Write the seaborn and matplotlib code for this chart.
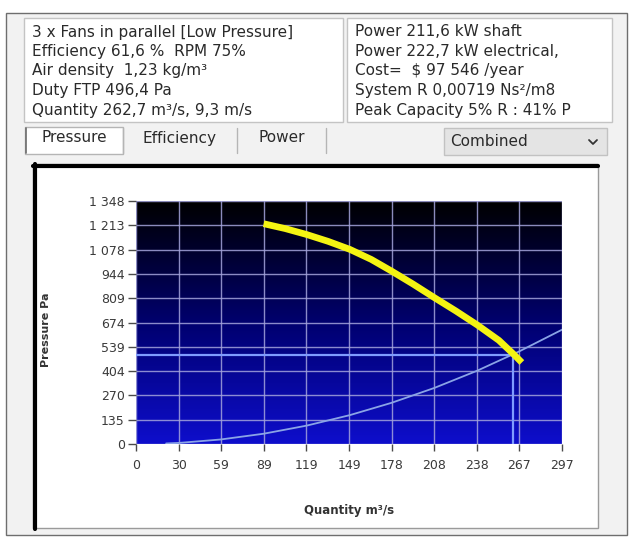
import numpy as np
import matplotlib
matplotlib.use("Agg")
import matplotlib.pyplot as plt
from matplotlib.patches import Rectangle
from matplotlib.colors import LinearSegmentedColormap
import seaborn as sns

# fan pressure curve (yellow) and system resistance curve
fan_q = [89, 104, 119, 134, 149, 164, 178, 193, 208, 223, 238, 253, 263, 269]
fan_p = [1222, 1195, 1162, 1124, 1080, 1024, 960, 888, 812, 738, 660, 575, 500, 452]
sys_q = [21, 30, 59, 89, 119, 149, 178, 208, 238, 267, 297]
sys_p = [3, 6, 25, 57, 102, 160, 228, 311, 407, 513, 634]
duty_q = 262.7
duty_p = 496.4

x_tick_labels = ["0", "30", "59", "89", "119", "149", "178", "208", "238", "267", "297"]
y_tick_labels = ["0", "135", "270", "404", "539", "674", "809", "944", "1 078", "1 213", "1 348"]
x_max = 297
y_max = 1348

info_left = ["3 x Fans in parallel [Low Pressure]",
             "Efficiency 61,6 %  RPM 75%",
             "Air density  1,23 kg/m³",
             "Duty FTP 496,4 Pa",
             "Quantity 262,7 m³/s, 9,3 m/s"]
info_right = ["Power 211,6 kW shaft",
              "Power 222,7 kW electrical,",
              "Cost=  $ 97 546 /year",
              "System R 0,00719 Ns²/m8",
              "Peak Capacity 5% R : 41% P"]
tabs = ["Pressure", "Efficiency", "Power"]
dropdown = "Combined"

sns.set_style("white")
plt.rcParams["font.family"] = ["DejaVu Sans"]

W, H = 633, 538
fig = plt.figure(figsize=(W / 100, H / 100), dpi=100)
fig.patch.set_facecolor("white")

# window chrome, drawn in pixel coordinates
ui = fig.add_axes([0, 0, 1, 1])
ui.set_xlim(0, W)
ui.set_ylim(H, 0)
ui.axis("off")

txt = "#2a2a2a"
fs = 11
ui.add_patch(Rectangle((6, 13), 621, 522, fc="#f2f2f2", ec="#6e6e6e", lw=1))
ui.add_patch(Rectangle((24, 18), 319, 104, fc="white", ec="#c4c4c4", lw=1))
ui.add_patch(Rectangle((347, 18), 265, 104, fc="white", ec="#c4c4c4", lw=1))
for i, (a, b) in enumerate(zip(info_left, info_right)):
    y = 32 + i * 19.5
    ui.text(32, y, a, fontsize=fs, color=txt, va="center")
    ui.text(355, y, b, fontsize=fs, color=txt, va="center")

tab_x = [25, 123, 237, 326]
ui.add_patch(Rectangle((25, 127), 98, 27, fc="white", ec="#b5b5b5", lw=1))
ui.plot([26, 26], [128, 153], color="#6e6e6e", lw=1.2)
for i, name in enumerate(tabs):
    ui.plot([tab_x[i + 1]] * 2, [128, 153], color="#b5b5b5", lw=1)
    ui.text((tab_x[i] + tab_x[i + 1]) / 2, 138, name, fontsize=fs,
            color=txt, ha="center", va="center")

ui.add_patch(Rectangle((444, 128), 163, 27, fc="#e4e4e4", ec="#c2c2c2", lw=1))
ui.text(489, 142, dropdown, fontsize=fs, color=txt, ha="center", va="center")
ui.plot([589, 593, 597], [140, 144, 140], color="#333333", lw=1.3)

# chart panel
ui.add_patch(Rectangle((33, 164), 565, 364, fc="white", ec="#9a9a9a", lw=1))
ui.plot([33, 598], [165.5, 165.5], color="black", lw=3)
ui.plot([35, 35], [164, 529], color="black", lw=3)

# plot area
ax = fig.add_axes([136 / W, 1 - 444 / H, 426 / W, 243 / H])
cmap = LinearSegmentedColormap.from_list("bg", ["#000000", "#00006e", "#0e0ecc"])
grad = np.linspace(1, 0, 256).reshape(-1, 1)
ax.imshow(grad, extent=[0, x_max, 0, y_max], origin="lower", aspect="auto",
          cmap=cmap, zorder=0)

x_ticks = np.linspace(0, x_max, len(x_tick_labels))
y_ticks = np.linspace(0, y_max, len(y_tick_labels))
ax.set_xticks(x_ticks)
ax.set_xticklabels(x_tick_labels)
ax.set_yticks(y_ticks)
ax.set_yticklabels(y_tick_labels)
ax.set_xlim(0, x_max)
ax.set_ylim(0, y_max)
ax.grid(True, color="#a4a4dc", lw=1, alpha=0.85, zorder=1)
for s in ax.spines.values():
    s.set_visible(False)
ax.tick_params(axis="x", direction="out", length=5, width=1, color="#4a4a4a",
               pad=6, labelsize=9, labelcolor="#3a3a3a", bottom=True)
ax.tick_params(axis="y", direction="out", length=6, width=1, color="#4a4a4a",
               pad=2, labelsize=9, labelcolor="#3a3a3a", left=True)

sns.lineplot(x=sys_q, y=sys_p, ax=ax, color="#8aa4e6", lw=1.3, zorder=3)
ax.hlines(duty_p, 0, duty_q, color="#7f9cff", lw=1.6, zorder=3)
ax.vlines(duty_q, 0, duty_p, color="#7f9cff", lw=1.6, zorder=3)
sns.lineplot(x=fan_q, y=fan_p, ax=ax, color="#f4f412", lw=4.8, zorder=4,
             solid_capstyle="butt")

ax.set_xlabel("Quantity m³/s", fontsize=8.5, fontweight="bold", color="#333333")
ax.set_ylabel("Pressure Pa", fontsize=8, fontweight="bold", color="#333333")
ax.xaxis.set_label_coords(0.5, -0.245)
ax.yaxis.set_label_coords(-0.2, 0.47)

fig.savefig("out.png", dpi=100)
